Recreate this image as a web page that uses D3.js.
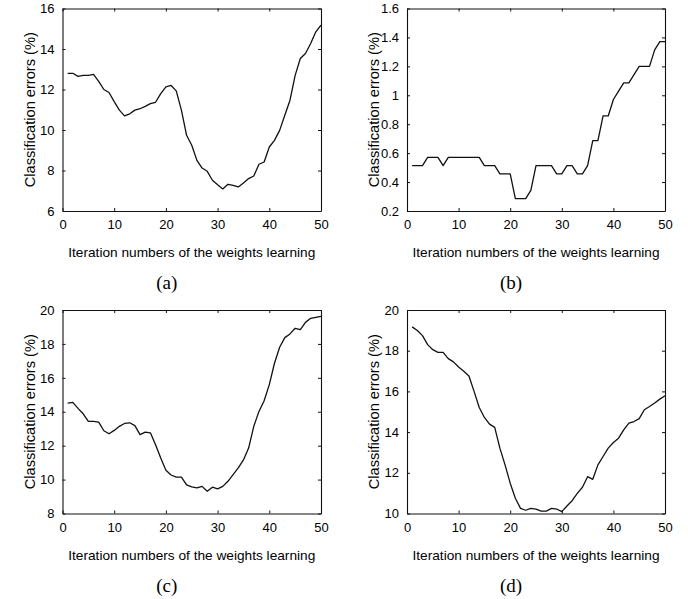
<!DOCTYPE html>
<html>
<head>
<meta charset="utf-8">
<script src="https://cdn.jsdelivr.net/npm/d3@7"></script>
<style>
  body { margin: 0; background: #fff; }
  svg { display: block; }
</style>
</head>
<body>
<svg id="chart"></svg>
<script>
// iteration numbers (x) and the four error curves
var iterations = [1,2,3,4,5,6,7,8,9,10,11,12,13,14,15,16,17,18,19,20,21,22,23,24,25,
  26,27,28,29,30,31,32,33,34,35,36,37,38,39,40,41,42,43,44,45,46,47,48,49,50];

var errorsA = [12.8,12.8,12.65,12.7,12.7,12.75,12.4,12.0,11.85,11.4,10.98,10.7,10.8,10.98,11.05,
  11.17,11.3,11.37,11.8,12.13,12.2,11.93,10.98,9.74,9.25,8.5,8.12,7.96,7.52,7.3,
  7.09,7.32,7.27,7.19,7.38,7.6,7.73,8.31,8.42,9.16,9.49,9.98,10.73,11.47,12.7,
  13.53,13.78,14.27,14.85,15.18];

var errorsB = [0.514,0.514,0.514,0.571,0.571,0.571,0.514,0.571,0.571,0.571,0.571,0.571,0.571,0.571,0.514,
  0.514,0.514,0.457,0.457,0.457,0.286,0.286,0.286,0.343,0.514,0.514,0.514,0.514,0.457,0.457,
  0.514,0.514,0.457,0.457,0.514,0.686,0.686,0.857,0.857,0.971,1.029,1.086,1.086,1.143,1.2,
  1.2,1.2,1.314,1.371,1.371];

var errorsC = [14.51,14.55,14.2,13.88,13.43,13.43,13.39,12.88,12.7,12.9,13.14,13.31,13.35,13.18,12.65,
  12.8,12.76,12.06,11.27,10.55,10.27,10.14,10.14,9.69,9.57,9.51,9.6,9.31,9.55,9.45,
  9.6,9.9,10.29,10.69,11.16,11.86,13.14,14.02,14.65,15.6,16.86,17.8,18.37,18.59,18.92,
  18.84,19.27,19.51,19.57,19.63];

var errorsD = [19.17,18.99,18.74,18.3,18.05,17.92,17.92,17.61,17.45,17.2,16.99,16.76,16.0,15.21,14.72,
  14.39,14.23,13.21,12.39,11.49,10.75,10.25,10.16,10.25,10.22,10.12,10.12,10.25,10.22,10.09,
  10.37,10.63,10.99,11.29,11.81,11.68,12.39,12.8,13.21,13.49,13.7,14.11,14.44,14.52,14.66,
  15.1,15.26,15.43,15.62,15.79];

var xTicks = [0,10,20,30,40,50];
var yTicksA = [6,8,10,12,14,16];
var yTicksB = [0.2,0.4,0.6,0.8,1,1.2,1.4,1.6];
var yTicksC = [8,10,12,14,16,18,20];
var yTicksD = [10,12,14,16,18,20];

var panelLabels = ["(a)","(b)","(c)","(d)"];
var xTitle = "Iteration numbers of the weights learning";
var yTitle = "Classification errors (%)";

var W = 688, H = 599;

var svg = d3.select("#chart")
  .attr("width", W)
  .attr("height", H);

// panel boxes (left, top, right, bottom)
var panels = [
  { box: [62.5, 8.5, 321, 211], values: errorsA, yTicks: yTicksA, label: panelLabels[0] },
  { box: [407, 8.5, 665, 211], values: errorsB, yTicks: yTicksB, label: panelLabels[1] },
  { box: [62.5, 310, 321, 513.5], values: errorsC, yTicks: yTicksC, label: panelLabels[2] },
  { box: [407, 310, 665, 513.5], values: errorsD, yTicks: yTicksD, label: panelLabels[3] }
];

var fontSans = "'Liberation Sans', Arial, Helvetica, sans-serif";

panels.forEach(function(p){
  var w = p.box[2] - p.box[0];
  var h = p.box[3] - p.box[1];

  var g = svg.append("g")
    .attr("transform", "translate(" + p.box[0] + "," + p.box[1] + ")");

  var x = d3.scaleLinear().domain([0, 50]).range([0, w]);
  var yExt = d3.extent(p.yTicks);
  var y = d3.scaleLinear().domain(yExt).range([h, 0]);

  // box with inward ticks on all four sides
  var bottom = g.append("g")
    .attr("transform", "translate(0," + h + ")")
    .call(d3.axisBottom(x).tickValues(xTicks).tickSizeInner(-3).tickSizeOuter(0).tickPadding(9));
  var left = g.append("g")
    .call(d3.axisLeft(y).tickValues(p.yTicks).tickFormat(d3.format("~g"))
      .tickSizeInner(-3).tickSizeOuter(0).tickPadding(8));
  g.append("g")
    .call(d3.axisTop(x).tickValues(xTicks).tickSizeInner(-3).tickSizeOuter(0).tickFormat(""));
  g.append("g")
    .attr("transform", "translate(" + w + ",0)")
    .call(d3.axisRight(y).tickValues(p.yTicks).tickSizeInner(-3).tickSizeOuter(0).tickFormat(""));

  g.selectAll(".domain").attr("stroke", "#111").attr("stroke-width", 1.1);
  g.selectAll(".tick line").attr("stroke", "#111").attr("stroke-width", 1);
  g.selectAll(".tick text")
    .attr("fill", "#000")
    .style("font-family", fontSans)
    .style("font-size", "13px");

  // the curve
  var line = d3.line()
    .x(function(d, i){ return x(iterations[i]); })
    .y(function(d){ return y(d); });

  g.append("path")
    .datum(p.values)
    .attr("fill", "none")
    .attr("stroke", "#111")
    .attr("stroke-width", 1.3)
    .attr("stroke-linejoin", "round")
    .attr("d", line);

  // axis titles
  g.append("text")
    .attr("x", w / 2)
    .attr("y", h + 46)
    .attr("text-anchor", "middle")
    .attr("textLength", 247)
    .attr("lengthAdjust", "spacingAndGlyphs")
    .style("font-family", fontSans)
    .style("font-size", "13.5px")
    .text(xTitle);

  g.append("text")
    .attr("transform", "translate(-28," + (h / 2) + ") rotate(-90)")
    .attr("text-anchor", "middle")
    .attr("textLength", 155)
    .attr("lengthAdjust", "spacingAndGlyphs")
    .style("font-family", fontSans)
    .style("font-size", "14px")
    .text(yTitle);

  // panel letter
  g.append("text")
    .attr("x", w / 2 - 25)
    .attr("y", h + 78)
    .attr("text-anchor", "middle")
    .style("font-family", "'Liberation Serif', 'Times New Roman', serif")
    .style("font-size", "19px")
    .text(p.label);
});
</script>
</body>
</html>
